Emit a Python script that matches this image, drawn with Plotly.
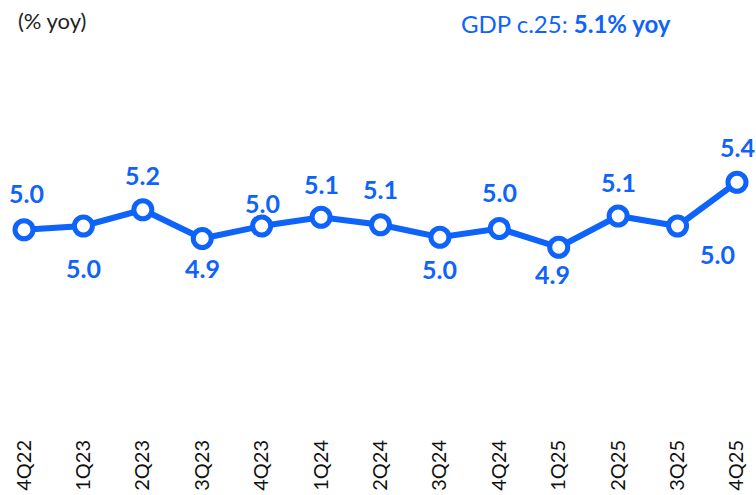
import plotly.graph_objects as go

quarters = ["4Q22", "1Q23", "2Q23", "3Q23", "4Q23", "1Q24", "2Q24",
            "3Q24", "4Q24", "1Q25", "2Q25", "3Q25", "4Q25"]
gdp_yoy = [5.01, 5.04, 5.17, 4.94, 5.04, 5.11, 5.05, 4.95, 5.02, 4.87, 5.12, 5.04, 5.39]
value_labels = ["5.0", "5.0", "5.2", "4.9", "5.0", "5.1", "5.1",
                "5.0", "5.0", "4.9", "5.1", "5.0", "5.4"]

# label offsets in pixels (x, y) relative to each point
label_dx = [2, 0, 0, 0, 1, 0, 0, 0, 0, -6, 0, 40, 1]
label_dy = [37, -42, 35, -29, 23, 33, 36, -32, 37, -27, 34, -28, 35]

BLUE = "#0D63FA"
FONT = "Lato, 'Open Sans', sans-serif"

fig = go.Figure()
fig.add_trace(go.Scatter(
    x=quarters, y=gdp_yoy, mode="lines+markers",
    line=dict(color=BLUE, width=6),
    marker=dict(size=18, color="white", line=dict(color=BLUE, width=5)),
    hoverinfo="x+y", showlegend=False, cliponaxis=False,
))

for q, v, t, dx, dy in zip(quarters, gdp_yoy, value_labels, label_dx, label_dy):
    fig.add_annotation(x=q, y=v, text=f"<b>{t}</b>", showarrow=False,
                       xshift=dx, yshift=dy,
                       font=dict(family=FONT, size=25, color=BLUE))

fig.add_annotation(xref="paper", yref="paper", x=0.021, y=0.952, yanchor="middle",
                   xanchor="left", text="(% yoy)", showarrow=False,
                   font=dict(family=FONT, size=22, color="#222222"))
fig.add_annotation(xref="paper", yref="paper", x=0.89, y=0.945, yanchor="middle",
                   xanchor="right", text="GDP c.25: <b>5.1% yoy</b>", showarrow=False,
                   font=dict(family=FONT, size=24, color=BLUE))

fig.update_layout(
    width=756, height=495,
    margin=dict(l=0, r=0, t=0, b=60),
    plot_bgcolor="white", paper_bgcolor="white",
    xaxis=dict(type="category", range=[-0.404, 12.32], showgrid=False,
               showline=False, zeroline=False, tickangle=-90,
               ticks="", tickfont=dict(family=FONT, size=20, color="#111111")),
    yaxis=dict(range=[3.368, 6.848], visible=False, showgrid=False, zeroline=False),
)

fig.write_html("out.html", config={"displayModeBar": False},
               post_script="document.body.style.margin='0';")
